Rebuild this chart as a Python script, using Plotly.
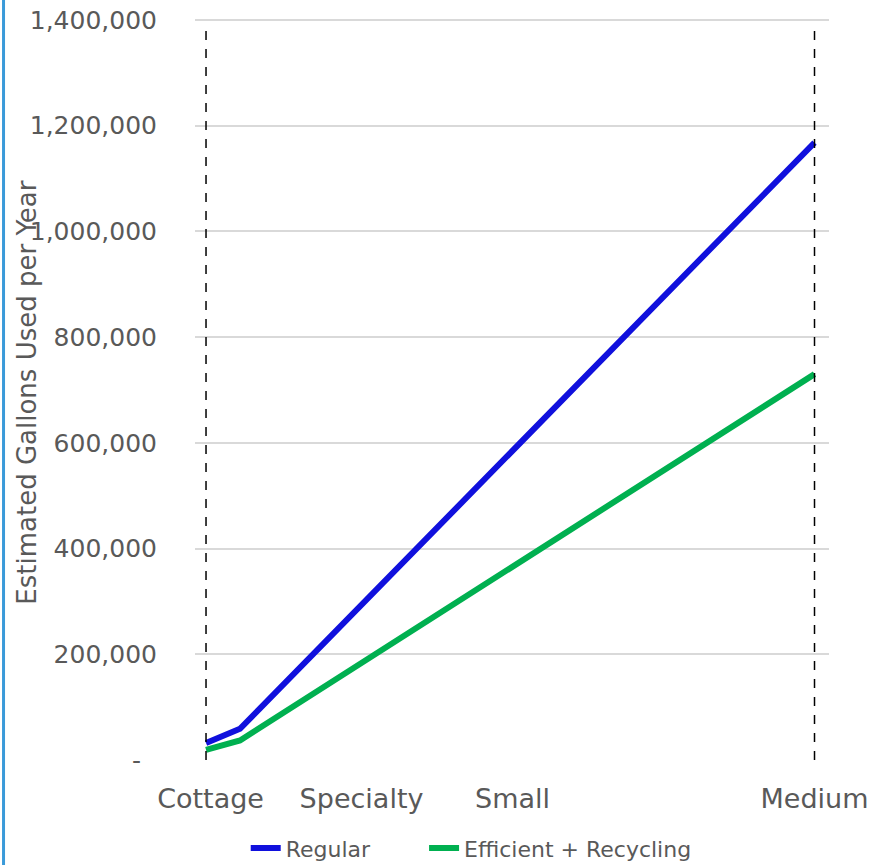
import plotly.graph_objects as go

# Brewery size classes along the production axis
size_labels = ["Cottage", "Specialty", "Small", "Medium"]
size_pos = [0.03, 1.03, 2.03, 4.03]
size_bounds = [0.0, 4.03]

# Estimated water use (gallons per year)
regular_x = [0.0, 0.225, 4.03]
regular_gal = [32000, 59000, 1168000]
efficient_x = [0.0, 0.225, 4.03]
efficient_gal = [19000, 37000, 730000]

y_ticks = [0, 200000, 400000, 600000, 800000, 1000000, 1200000, 1400000]
y_ticktext = ["-\u00a0\u00a0"] + [f"{v:,}" for v in y_ticks[1:]]
y_max = 1403800  # small headroom so the 1,400,000 gridline is drawn
bound_top = 1385000

FONT = "DejaVu Sans"
GRAY = "#595959"
PAD = "\u00a0" * 7  # extra room between the two legend entries

fig = go.Figure()
fig.add_trace(go.Scatter(
    x=regular_x, y=regular_gal, mode="lines", name="Regular" + PAD,
    line=dict(color="#1010DD", width=6),
))
fig.add_trace(go.Scatter(
    x=efficient_x, y=efficient_gal, mode="lines", name="Efficient + Recycling",
    line=dict(color="#00B050", width=6),
))
for bx in size_bounds:
    fig.add_trace(go.Scatter(
        x=[bx, bx], y=[0, bound_top], mode="lines", showlegend=False,
        line=dict(color="black", width=1.5, dash="dash"), hoverinfo="skip",
    ))

fig.update_layout(
    width=879, height=865,
    margin=dict(l=195, r=50, t=18, b=105, autoexpand=False),
    paper_bgcolor="white", plot_bgcolor="white",
    font=dict(family=FONT, color=GRAY),
    legend=dict(
        orientation="h", x=0.08, xanchor="left", y=-0.119, yanchor="middle",
        font=dict(size=22, color=GRAY, family=FONT), itemwidth=30,
    ),
    annotations=[dict(
        text="Estimated Gallons Used per Year", textangle=-90,
        xref="paper", yref="paper", x=-0.265, y=0.495,
        xanchor="center", yanchor="middle", showarrow=False,
        font=dict(size=26, color=GRAY, family=FONT),
    )],
    shapes=[dict(
        type="line", xref="paper", yref="paper",
        x0=-0.302, x1=-0.302, y0=-0.2, y1=1.1,
        line=dict(color="#3A9AD9", width=3),
    )],
)
fig.update_xaxes(
    range=[-0.073, 4.126], tickmode="array", tickvals=size_pos, ticktext=size_labels,
    showgrid=False, zeroline=False, showline=False, ticks="",
    tickfont=dict(size=27, color=GRAY, family=FONT), ticklabelstandoff=20,
)
fig.update_yaxes(
    range=[0, y_max], tickmode="array", tickvals=y_ticks, ticktext=y_ticktext,
    showgrid=True, gridcolor="#D9D9D9", gridwidth=1.5, zeroline=False,
    showline=False, ticks="",
    tickfont=dict(size=25, color=GRAY, family=FONT), ticklabelstandoff=37,
)

fig.write_html("out.html")
